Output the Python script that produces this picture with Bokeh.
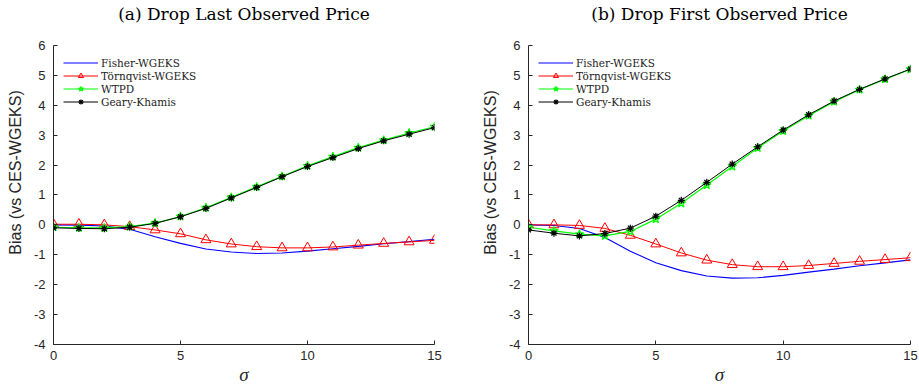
from bokeh.plotting import figure
from bokeh.layouts import row
from bokeh.models import Range1d, Label
from bokeh.embed import file_html
from bokeh.resources import INLINE

sigma = list(range(16))

a_fisher = [0.00, -0.01, -0.04, -0.15, -0.40, -0.62, -0.81, -0.91, -0.96, -0.94, -0.88, -0.80, -0.72, -0.63, -0.56, -0.48]
a_tornqvist = [0.02, 0.02, 0.00, -0.06, -0.17, -0.30, -0.50, -0.64, -0.73, -0.77, -0.77, -0.74, -0.68, -0.62, -0.57, -0.52]
a_wtpd = [-0.08, -0.10, -0.10, -0.06, 0.06, 0.28, 0.57, 0.92, 1.27, 1.62, 1.97, 2.28, 2.58, 2.83, 3.07, 3.28]
a_gk = [-0.10, -0.12, -0.13, -0.08, 0.05, 0.27, 0.55, 0.90, 1.25, 1.61, 1.95, 2.25, 2.55, 2.81, 3.03, 3.25]

b_fisher = [0.00, -0.02, -0.12, -0.42, -0.88, -1.27, -1.53, -1.71, -1.78, -1.77, -1.69, -1.58, -1.48, -1.37, -1.27, -1.17]
b_tornqvist = [0.00, 0.00, -0.02, -0.12, -0.35, -0.64, -0.94, -1.18, -1.33, -1.40, -1.40, -1.36, -1.29, -1.22, -1.16, -1.10]
b_wtpd = [-0.08, -0.20, -0.31, -0.37, -0.22, 0.19, 0.72, 1.33, 1.95, 2.57, 3.14, 3.65, 4.12, 4.52, 4.87, 5.20]
b_gk = [-0.17, -0.28, -0.37, -0.29, -0.11, 0.29, 0.82, 1.42, 2.03, 2.61, 3.17, 3.68, 4.14, 4.53, 4.88, 5.21]

x_ticks = [0, 5, 10, 15]
y_ticks = [-4, -3, -2, -1, 0, 1, 2, 3, 4, 5, 6]
titles = ["(a) Drop Last Observed Price", "(b) Drop First Observed Price"]
series_names = ["Fisher-WGEKS", "Törnqvist-WGEKS", "WTPD", "Geary-Khamis"]

AX = "#262626"


def panel(title, fisher, tornq, wtpd, gk, width, bl, br):
    # the frame reaches the top of the canvas so the title can sit inside it;
    # the y axis itself is bounded to [-4, 6]
    p = figure(width=width, height=387, x_range=Range1d(0, 15), y_range=Range1d(-4, 7.5),
               output_backend="svg", toolbar_location=None,
               min_border_left=bl, min_border_right=br, min_border_top=0, min_border_bottom=41)
    p.outline_line_color = None
    p.grid.visible = False
    p.background_fill_color = "white"

    p.add_layout(Label(x=7.5, y=331, x_units="data", y_units="screen", text=title,
                       text_font="DejaVu Serif", text_font_size="17px", text_color="black",
                       text_align="center", text_baseline="middle"))

    p.xaxis.ticker = x_ticks
    p.yaxis.ticker = y_ticks
    p.yaxis.bounds = (y_ticks[0], y_ticks[-1])
    p.xaxis.major_label_overrides = {t: str(t) for t in x_ticks}
    p.yaxis.major_label_overrides = {t: str(t) for t in y_ticks}
    for ax in (p.xaxis[0], p.yaxis[0]):
        ax.axis_line_color = AX
        ax.major_tick_line_color = AX
        ax.minor_tick_line_color = None
        ax.major_tick_in = 4
        ax.major_tick_out = 0
        ax.major_label_text_font = "Liberation Sans"
        ax.major_label_text_font_size = "13px"
        ax.major_label_text_color = AX
    p.xaxis.major_label_standoff = 6
    p.yaxis.major_label_standoff = 8
    p.xaxis.axis_label = "σ"
    p.xaxis.axis_label_text_font = "Liberation Serif"
    p.xaxis.axis_label_text_font_style = "italic"
    p.xaxis.axis_label_text_font_size = "19px"
    p.xaxis.axis_label_text_color = AX
    p.xaxis.axis_label_standoff = 1
    p.yaxis.axis_label = "Bias (vs CES-WGEKS)"
    p.yaxis.axis_label_text_font = "Liberation Sans"
    p.yaxis.axis_label_text_font_style = "normal"
    p.yaxis.axis_label_text_font_size = "16px"
    p.yaxis.axis_label_text_color = AX
    p.yaxis.axis_label_standoff = 7

    p.line(sigma, fisher, line_color="#0000ff", line_width=1.1, legend_label=series_names[0])
    p.line(sigma, tornq, line_color="#ff0000", line_width=1, legend_label=series_names[1])
    p.scatter(sigma, tornq, marker="triangle", size=10, line_color="#ff0000", fill_color=None,
              line_width=1, legend_label=series_names[1])
    p.line(sigma, wtpd, line_color="#00ff00", line_width=1.2, legend_label=series_names[2])
    p.scatter(sigma, wtpd, marker="star", size=9, line_color="#00ff00", fill_color=None,
              line_width=1.2, legend_label=series_names[2])
    p.line(sigma, gk, line_color="black", line_width=1, legend_label=series_names[3])
    p.scatter(sigma, gk, marker="asterisk", size=7, line_color="black",
              line_width=1.2, legend_label=series_names[3])

    lg = p.legend[0]
    lg.location = (10, 236)
    lg.padding = 10
    lg.border_line_color = None
    lg.background_fill_alpha = 0
    lg.label_text_font = "DejaVu Serif"
    lg.label_text_font_size = "10.5px"
    lg.label_text_line_height = 1.0
    lg.label_text_color = "#222222"
    lg.glyph_width = 35
    lg.glyph_height = 13
    lg.label_height = 13
    lg.spacing = 0
    lg.label_standoff = 3
    return p


p1 = panel(titles[0], a_fisher, a_tornqvist, a_wtpd, a_gk, 460, 53, 26)
p2 = panel(titles[1], b_fisher, b_tornqvist, b_wtpd, b_gk, 459, 68, 9)
layout = row(p1, p2)

open("out.html", "w").write(file_html(layout, INLINE))
